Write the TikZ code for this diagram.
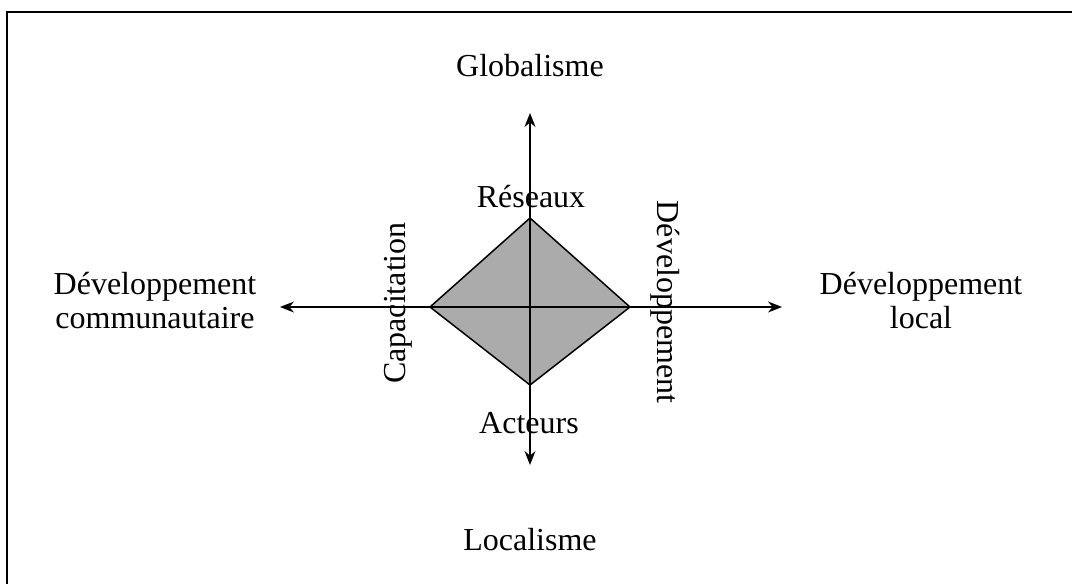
\documentclass[tikz,border=0pt]{standalone}
\usepackage{fontspec}
\setmainfont{Liberation Serif}
\usetikzlibrary{arrows.meta}

\begin{document}
\begin{tikzpicture}[
  x=0.5pt, y=-0.5pt,
  label/.style={font=\fontsize{16}{17}\selectfont, inner sep=0pt, align=center},
  axis/.style={-{Stealth[length=7pt, width=5.5pt]}, line width=0.75pt},
  frame/.style={line width=1.1pt},
  kite/.style={draw, line width=0.75pt, fill=black!33}
]
\useasboundingbox (0,0) rectangle (1072,584);

% Frame
\coordinate (ftl) at (7,12);
\coordinate (ftr) at (1072,12);
\coordinate (fbl) at (7,584);
\draw[frame] (fbl) -- (ftl) -- (ftr);

% Diamond
\coordinate (res) at (530,218);
\coordinate (dev) at (630,307);
\coordinate (act) at (530,385);
\coordinate (cap) at (430,307);
\draw[kite] (res) -- (dev) -- (act) -- (cap) -- cycle;

% Axes
\coordinate (o) at (530,307);
\coordinate (north) at (530,113);
\coordinate (south) at (530,465);
\coordinate (west) at (280,307);
\coordinate (east) at (782,307);
\draw[axis] (o) -- (north);
\draw[axis] (o) -- (south);
\draw[axis] (o) -- (west);
\draw[axis] (o) -- (east);

% Labels
\node[label, anchor=base] (glob) at (530,76) {Globalisme};
\node[label, anchor=base] (loc) at (530,550) {Localisme};
\node[label, anchor=base] (reseaux) at (531,207) {Réseaux};
\node[label, anchor=base] (acteurs) at (529,433) {Acteurs};
\node[label] (devcom) at (155,301) {Développement\\communautaire};
\node[label] (devloc) at (921,301) {Développement\\local};
\node[label, rotate=90] (capac) at (398,303) {Capacitation};
\node[label, rotate=-90] (develop) at (665,302) {Développement};

\end{tikzpicture}
\end{document}
